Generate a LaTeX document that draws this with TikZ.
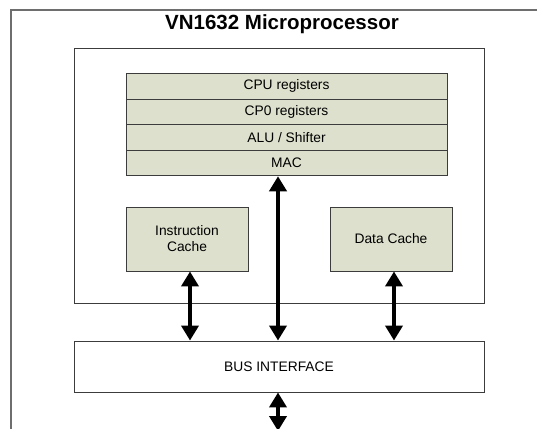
\documentclass[tikz,border=0pt]{standalone}
\usepackage{fontspec}
\setmainfont{Liberation Sans}
\usetikzlibrary{arrows.meta}
\definecolor{boxfill}{RGB}{221,224,204}
\definecolor{boxline}{RGB}{60,60,60}
\definecolor{frameline}{RGB}{110,110,110}
\begin{document}
\begin{tikzpicture}[x=1pt,y=-1pt,
  regbox/.style={draw=boxline,fill=boxfill,line width=0.9pt,minimum width=321pt,minimum height=25.6pt,inner sep=0pt,font=\fontsize{13.8}{15}\selectfont},
  cachebox/.style={draw=boxline,fill=boxfill,line width=0.9pt,minimum width=122pt,minimum height=64pt,inner sep=0pt,align=center,font=\fontsize{13.8}{16}\selectfont},
  dblarrow/.style={line width=3.8pt,{Triangle[width=17pt,length=15pt]}-{Triangle[width=17pt,length=15pt]}}]
\useasboundingbox (0,0) rectangle (537,428);
\fill[white] (0,0) rectangle (537,428);
% outer frame (only top and left edges visible)
\draw[frameline,line width=1.3pt] (537,10) -- (11,10) -- (11,430);
\node[font=\bfseries\fontsize{20.5}{24}\selectfont] (title) at (282,24) {VN1632 Microprocessor};
% inner processor box
\node[draw=boxline,line width=0.9pt,minimum width=410pt,minimum height=255pt,inner sep=0pt] (core) at (279,175.5) {};
% register stack
\node[regbox] (cpu) at (286.5,86.2) {CPU registers};
\node[regbox] (cp0) at (286.5,111.8) {CP0 registers};
\node[regbox] (alu) at (286.5,137.4) {ALU / Shifter};
\node[regbox] (mac) at (286.5,163) {MAC};
% caches
\node[cachebox] (icache) at (187,239) {Instruction\\Cache};
\node[cachebox] (dcache) at (391,239) {Data Cache};
% bus interface
\node[draw=boxline,line width=0.9pt,minimum width=410pt,minimum height=51pt,inner sep=0pt,font=\fontsize{13.8}{15}\selectfont] (bus) at (279,366.5) {BUS INTERFACE};
\coordinate (out) at (278,431);
% connectors
\draw[dblarrow] (icache.south -| 190,0) -- (bus.north -| 190,0);
\draw[dblarrow] (mac.south -| 278,0) -- (bus.north -| 278,0);
\draw[dblarrow] (dcache.south -| 394,0) -- (bus.north -| 394,0);
\draw[dblarrow] (bus.south -| out) -- (out);
\end{tikzpicture}
\end{document}
